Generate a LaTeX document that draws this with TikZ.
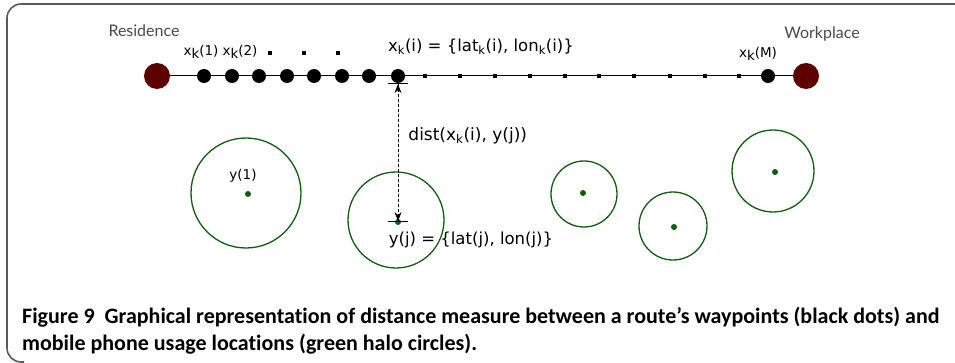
\documentclass[tikz,border=0pt]{standalone}
\usepackage{fontspec}
\setmainfont{DejaVu Sans}
\newfontfamily\lightfont{Lato}
\newfontfamily\capfont[Ligatures=NoCommon]{Carlito}
\usetikzlibrary{arrows.meta, positioning}
\definecolor{cHome}{HTML}{5C0000}
\definecolor{cHalo}{HTML}{0E5E0E}
\definecolor{cFrame}{HTML}{5A5A5A}
\definecolor{cLabel}{HTML}{4A4A4A}
\newcommand{\lowk}{\raisebox{-0.45ex}{k}}
\tikzset{
  endpt/.style={circle, fill=cHome, minimum size=26pt, inner sep=0pt},
  wpt/.style={circle, fill=black, minimum size=14pt, inner sep=0pt},
  sqpt/.style={rectangle, fill=black, minimum size=4pt, inner sep=0pt},
  halo/.style={circle, draw=cHalo, line width=1.3pt, minimum size=#1, inner sep=0pt},
  usage/.style={circle, fill=cHalo, minimum size=6pt, inner sep=0pt},
  place/.style={font=\lightfont\fontsize{16}{18}\selectfont, text=cLabel, inner sep=0pt},
  wlabel/.style={font=\fontsize{13.5}{15}\selectfont, inner sep=0pt},
  formula/.style={font=\fontsize{16.5}{18}\selectfont, inner sep=0pt},
  capt/.style={font=\capfont\bfseries\fontsize{22}{24}\selectfont, inner sep=0pt, anchor=base west},
  distarrow/.style={{Bar[width=20pt]Stealth[length=9pt,width=7pt]}-{Stealth[length=9pt,width=7pt]Bar[width=20pt]},
    dash pattern=on 3pt off 2pt, line width=0.9pt},
}

\begin{document}
\begin{tikzpicture}[x=1pt, y=-1pt]
  \useasboundingbox (0,0) rectangle (955,363);

  % Frame
  \draw[cFrame, line width=1.6pt, rounded corners=14pt] (955,4) -- (7,4) -- (7,362) -- (24,362);

  % Route end points
  \node[endpt] (res)  at (157,76) {};
  \node[endpt] (work) at (806,76) {};
  \node[place] (reslab)  at (144,31) {Residence};
  \node[place] (worklab) at (822,34) {Workplace};

  % Waypoints
  \node[wpt] (x1) at (204,76) {};
  \node[wpt] (x2) at (232,76) {};
  \node[wpt] (x3) at (259,76) {};
  \node[wpt] (x4) at (287,76) {};
  \node[wpt] (x5) at (314,76) {};
  \node[wpt] (x6) at (342,76) {};
  \node[wpt] (x7) at (369,76) {};
  \node[wpt] (xi) at (398,76) {};
  \node[wpt] (xm) at (768,76) {};

  % Remaining waypoints (small)
  \node[sqpt] (s1)  at (425,76) {};
  \node[sqpt] (s2)  at (460,76) {};
  \node[sqpt] (s3)  at (495,76) {};
  \node[sqpt] (s4)  at (530,76) {};
  \node[sqpt] (s5)  at (565,76) {};
  \node[sqpt] (s6)  at (599,76) {};
  \node[sqpt] (s7)  at (634,76) {};
  \node[sqpt] (s8)  at (670,76) {};
  \node[sqpt] (s9)  at (705,76) {};
  \node[sqpt] (s10) at (739,76) {};

  % Route line
  \draw[line width=1pt] (res) -- (work);

  % Waypoint labels
  \node[wlabel] (x1lab) at (201,52) {x\lowk(1)};
  \node[wlabel] (x2lab) at (240,52) {x\lowk(2)};
  \node[sqpt, minimum size=3.5pt] (d1) at (270,53) {};
  \node[sqpt, minimum size=3.5pt] (d2) at (304,53) {};
  \node[sqpt, minimum size=3.5pt] (d3) at (338,53) {};
  \node[formula] (xilab) at (481,47) {x\textsubscript{k}(i) = \{lat\textsubscript{k}(i), lon\textsubscript{k}(i)\}};
  \node[wlabel] (xmlab) at (758,54) {x\lowk(M)};

  % Usage locations
  \node[halo=110pt] (h1) at (246,193) {};
  \node[halo=96pt]  (hj) at (396,220) {};
  \node[halo=66pt]  (h3) at (584,194) {};
  \node[halo=68pt]  (h4) at (673,226) {};
  \node[halo=82pt]  (h5) at (773,171) {};
  \node[usage] (y1) at (248,194) {};
  \node[usage] (yj) at (398,222) {};
  \node[usage] (y3) at (583,193) {};
  \node[usage] (y4) at (674,227) {};
  \node[usage] (y5) at (775,172) {};
  \node[wlabel] (y1lab) at (243,176) {y(1)};
  \node[formula] (yjlab) at (471,240) {y(j) = \{lat(j), lon(j)\}};

  % Distance
  \draw[distarrow] (xi.south) -- (yj.center)
    node[formula, font=\fontsize{17}{19}\selectfont, anchor=west] (distlab) at (408,136) {dist(x\textsubscript{k}(i), y(j))};

  % Caption
  \node[capt] (cap1) at (22,323) {Figure 9\ \ Graphical representation of distance measure between a route’s waypoints (black dots) and};
  \node[capt] (cap2) at (22,350) {mobile phone usage locations (green halo circles).};
\end{tikzpicture}
\end{document}
